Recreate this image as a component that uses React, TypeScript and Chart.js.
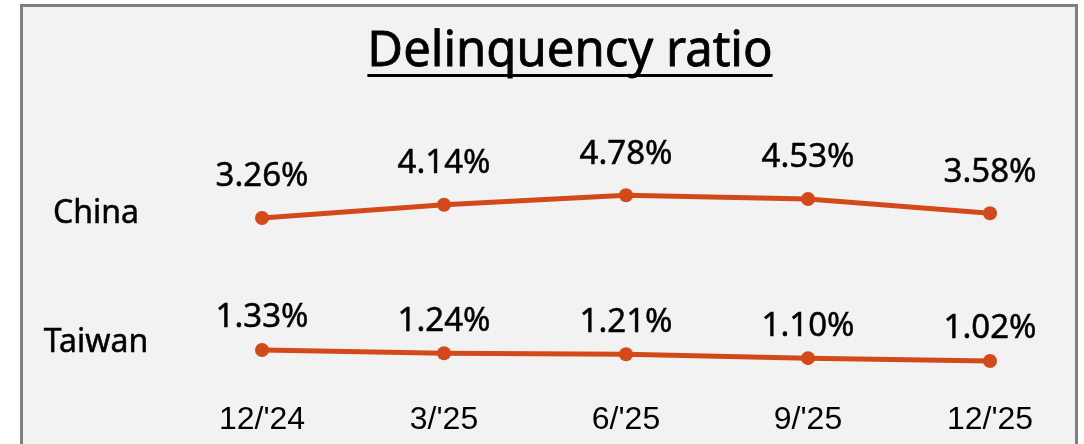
import React, { useEffect, useRef } from 'react';
import { Chart, registerables } from 'chart.js';

Chart.register(...registerables);

const categories = ["12/'24", "3/'25", "6/'25", "9/'25", "12/'25"];
const chinaValues = [3.26, 4.14, 4.78, 4.53, 3.58];
const taiwanValues = [1.33, 1.24, 1.21, 1.1, 1.02];
const seriesNames = ['China', 'Taiwan'];
const titleText = 'Delinquency ratio';

const LINE_COLOR = '#D4491A';
const TEXT_FONT = '"Noto Sans", "Open Sans", sans-serif';

const titlePlugin = {
  id: 'underlinedTitle',
  afterDraw(chart: any) {
    const ctx = chart.ctx;
    ctx.save();
    ctx.font = `49px ${TEXT_FONT}`;
    ctx.fillStyle = '#000000';
    ctx.textAlign = 'center';
    ctx.textBaseline = 'alphabetic';
    const cx = 570;
    const baseY = 66;
    ctx.lineWidth = 0.8;
    ctx.strokeStyle = '#000000';
    ctx.fillText(titleText, cx, baseY);
    ctx.strokeText(titleText, cx, baseY);
    const w = ctx.measureText(titleText).width;
    ctx.fillRect(cx - w / 2, baseY + 8, w, 3);
    ctx.restore();
  },
};

const valueLabelPlugin = {
  id: 'valueLabels',
  afterDatasetsDraw(chart: any) {
    const ctx = chart.ctx;
    chart.data.datasets.forEach((ds: any, i: number) => {
      const meta = chart.getDatasetMeta(i);
      ctx.save();
      ctx.fillStyle = '#000000';
      ctx.strokeStyle = '#000000';
      ctx.lineWidth = 0.5;
      ctx.textAlign = 'center';
      ctx.textBaseline = 'middle';
      ctx.font = `33px ${TEXT_FONT}`;
      meta.data.forEach((pt: any, j: number) => {
        const txt = Number(ds.data[j]).toFixed(2) + '%';
        ctx.fillText(txt, pt.x, pt.y - ds.valueLabelOffset);
        ctx.strokeText(txt, pt.x, pt.y - ds.valueLabelOffset);
      });
      ctx.font = `32px ${TEXT_FONT}`;
      const first = meta.data[0];
      if (first) {
        ctx.fillText(ds.label, 96, first.y - ds.nameOffset);
        ctx.strokeText(ds.label, 96, first.y - ds.nameOffset);
      }
      ctx.restore();
    });
  },
};

export default function App() {
  const canvasRef = useRef<HTMLCanvasElement | null>(null);

  useEffect(() => {
    if (!canvasRef.current) return;
    const chart = new Chart(canvasRef.current, {
      type: 'line',
      data: {
        labels: categories,
        datasets: [
          {
            label: seriesNames[0],
            data: chinaValues,
            yAxisID: 'yChina',
            borderColor: LINE_COLOR,
            backgroundColor: LINE_COLOR,
            borderWidth: 5,
            pointRadius: 7,
            pointBackgroundColor: LINE_COLOR,
            pointBorderWidth: 0,
            tension: 0,
            valueLabelOffset: 41,
            nameOffset: 4,
          } as any,
          {
            label: seriesNames[1],
            data: taiwanValues,
            yAxisID: 'yTaiwan',
            borderColor: LINE_COLOR,
            backgroundColor: LINE_COLOR,
            borderWidth: 5,
            pointRadius: 7,
            pointBackgroundColor: LINE_COLOR,
            pointBorderWidth: 0,
            tension: 0,
            valueLabelOffset: 32,
            nameOffset: 7,
          } as any,
        ],
      },
      options: {
        animation: false,
        responsive: false,
        devicePixelRatio: 1,
        layout: { padding: { left: 262, right: 94, top: 130, bottom: 3.6 } },
        plugins: {
          legend: { display: false },
          title: { display: false },
          tooltip: { enabled: false },
        },
        scales: {
          x: {
            type: 'category',
            offset: false,
            grid: { display: false, drawTicks: false },
            border: { display: false },
            ticks: {
              color: '#000000',
              font: { family: '"Liberation Sans", Arial, sans-serif', size: 32 },
              padding: 21,
              maxRotation: 0,
              autoSkip: false,
            },
          },
          yChina: {
            type: 'linear',
            display: false,
            min: -7.54,
            max: 9.127,
          },
          yTaiwan: {
            type: 'linear',
            display: false,
            min: 0.485,
            max: 7.527,
          },
        },
      },
      plugins: [titlePlugin, valueLabelPlugin],
    });
    return () => chart.destroy();
  }, []);

  return (
    <div style={{ position: 'absolute', left: 0, top: 0, width: 1084, height: 444, overflow: 'hidden' }}>
      <div
        style={{
          position: 'absolute',
          left: 20,
          top: 4,
          width: 1058,
          height: 470,
          boxSizing: 'border-box',
          border: '3px solid #7F7F7F',
          background: '#F2F2F2',
        }}
      />
      <canvas
        ref={canvasRef}
        width={1084}
        height={464}
        style={{ position: 'absolute', left: 0, top: 0, width: 1084, height: 464 }}
      />
    </div>
  );
}
